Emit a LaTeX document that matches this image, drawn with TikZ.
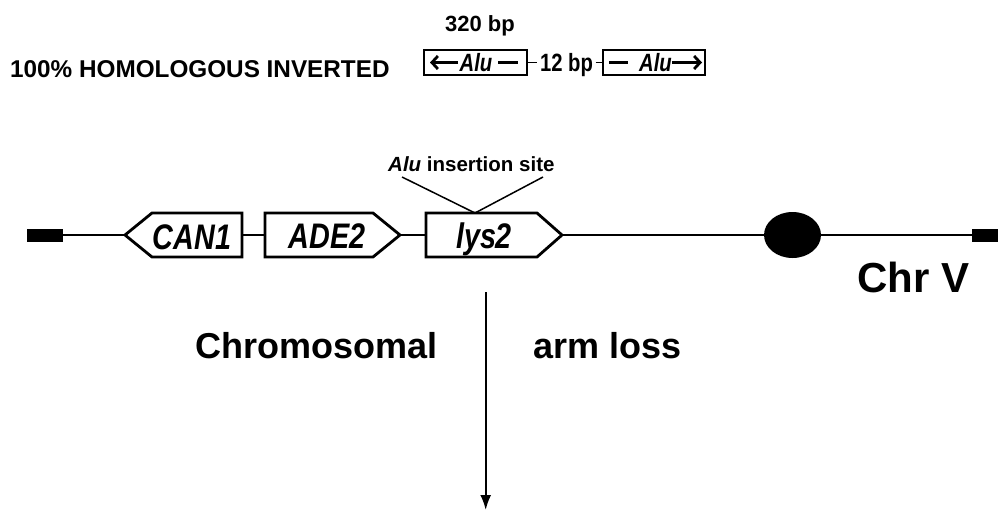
\documentclass[tikz,border=0pt]{standalone}
\usepackage{fontspec}
\setmainfont{Liberation Sans}
\newfontfamily\narrowsans[FakeStretch=0.81]{Liberation Sans}
\usetikzlibrary{arrows.meta,shapes.geometric}
\tikzset{
  gene/.style={line width=2.8pt, fill=white, line join=miter},
  genelabel/.style={anchor=base, inner sep=0pt, font=\narrowsans\bfseries\itshape\fontsize{35.5}{35.5}\selectfont},
  chrline/.style={line width=2.3pt},
  bar/.style={fill=black, draw=none, inner sep=0pt, minimum height=13pt},
  alubox/.style={draw, line width=1.8pt, minimum height=25pt, inner sep=0pt},
  smalltxt/.style={inner sep=0pt, font=\narrowsans\bfseries\fontsize{25}{25}\selectfont},
  bigtxt/.style={anchor=base west, inner sep=0pt, font=\bfseries\fontsize{36}{36}\selectfont},
  inner/.style={line width=2.8pt},
  barb/.style={-{Straight Barb[length=6pt,width=13pt]}},
}
\begin{document}
\begin{tikzpicture}[x=1pt,y=-1pt]
\useasboundingbox (0,0) rectangle (998,511);

% top header
\node[anchor=base, inner sep=0pt, font=\bfseries\fontsize{22}{22}\selectfont] (bp320) at (480,31.7) {320 bp};
\node[anchor=base west, inner sep=0pt, font=\bfseries\fontsize{24.3}{24.3}\selectfont] (homol) at (10,77.3) {100\% HOMOLOGOUS INVERTED};

\node[alubox, minimum width=103pt] (alu1) at (475.5,62.5) {};
\node[alubox, minimum width=102pt] (alu2) at (654,62.5) {};
\node[smalltxt, anchor=base, inner xsep=2.5pt] (twelve) at (566.5,71) {12 bp};
\draw[line width=1.8pt] (alu1.east) -- (alu1.east -| twelve.west);
\draw[line width=1.8pt] (alu2.west -| twelve.east) -- (alu2.west);

\node[smalltxt, anchor=base, font=\narrowsans\bfseries\itshape\fontsize{25}{25}\selectfont] (alu1t) at (476,71.5) {Alu};
\node[smalltxt, anchor=base, font=\narrowsans\bfseries\itshape\fontsize{25}{25}\selectfont] (alu2t) at (655.5,71.5) {Alu};
\coordinate (a1tip) at (430,62.5);
\coordinate (a1end) at (458,62.5);
\coordinate (d1s) at (498,62.5);
\coordinate (d1e) at (518,62.5);
\coordinate (d2s) at (609,62.5);
\coordinate (d2e) at (628,62.5);
\coordinate (a2s) at (672,62.5);
\coordinate (a2tip) at (702,62.5);
\draw[inner, barb] (a1end) -- (a1tip);
\draw[inner] (d1s) -- (d1e);
\draw[inner] (d2s) -- (d2e);
\draw[inner, barb] (a2s) -- (a2tip);

% chromosome
\node[bar, minimum width=36pt] (lbar) at (45,235) {};
\node[bar, minimum width=26pt, anchor=west] (rbar) at (972,235) {};
\node[ellipse, fill=black, minimum width=57pt, minimum height=46pt, inner sep=0pt] (cen) at (792.5,235) {};

\coordinate (can1tip) at (125,235);
\coordinate (can1end) at (242,235);
\coordinate (ade2start) at (265,235);
\coordinate (ade2tip) at (400,235);
\coordinate (lys2start) at (426,235);
\coordinate (lys2tip) at (562,235);
\coordinate (lys2top) at (475,213);

\draw[chrline] (lbar.east) -- (can1tip);
\draw[chrline] (can1end) -- (ade2start);
\draw[chrline] (ade2tip) -- (lys2start);
\draw[chrline] (lys2tip) -- (cen.west);
\draw[chrline] (cen.east) -- (rbar.west);

\draw[gene] (can1tip) -- (152,213) -- (242,213) -- (242,257) -- (152,257) -- cycle;
\draw[gene] (265,213) -- (373,213) -- (ade2tip) -- (373,257) -- (265,257) -- cycle;
\draw[gene] (426,213) -- (537,213) -- (lys2tip) -- (537,257) -- (426,257) -- cycle;

\node[genelabel] (can1) at (192,249) {CAN1};
\node[genelabel] (ade2) at (327,248.5) {ADE2};
\node[genelabel] (lys2) at (484,248.5) {lys2};

% insertion site
\node[anchor=base west, inner sep=0pt, font=\bfseries\fontsize{20.5}{20.5}\selectfont] (ins) at (388,171) {\textit{Alu} insertion site};
\coordinate (insl) at (402,177);
\coordinate (insr) at (543,177);
\draw[line width=1.5pt] (insl) -- (lys2top) -- (insr);

\node[anchor=base west, inner sep=0pt, font=\bfseries\fontsize{42}{42}\selectfont] (chrv) at (857,292) {Chr V};

% arrow
\coordinate (arrs) at (485.7,292);
\coordinate (arre) at (485.7,510);
\draw[line width=2pt, -{Latex[length=15pt,width=11pt]}] (arrs) -- (arre);

\node[bigtxt] (chromo) at (195,358) {Chromosomal};
\node[bigtxt] (arm) at (533,358) {arm loss};
\end{tikzpicture}
\end{document}
